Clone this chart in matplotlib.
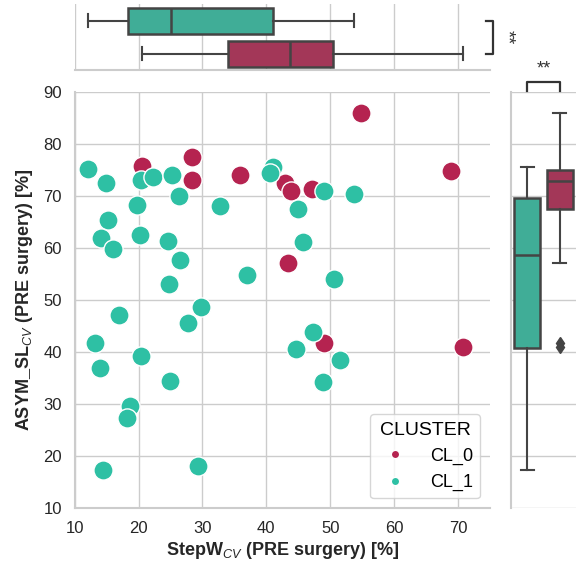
import matplotlib
matplotlib.use("Agg")
import matplotlib.pyplot as plt
import matplotlib.transforms as mtransforms
from matplotlib.lines import Line2D
import numpy as np

# ---------------- data ----------------
cl0_x = [20.5, 28.4, 28.4, 35.9, 43.0, 43.9, 43.4, 47.1, 54.8, 68.9, 49.0, 70.8]
cl0_y = [75.8, 77.5, 73.1, 74.1, 72.6, 71.0, 57.2, 71.5, 86.0, 74.9, 41.7, 41.1]

cl1_x = [12.06, 14.98, 20.4, 22.2, 25.3, 26.3, 41.1, 40.6, 19.75, 32.8,
         15.2, 14.2, 16.0, 20.2, 24.66, 26.5, 37.0, 24.8, 29.8, 45.0,
         49.0, 53.75, 45.75, 50.6, 16.9, 27.7, 13.2, 20.4, 13.9, 24.9,
         18.6, 18.2, 14.46, 29.3, 47.3, 44.7, 51.5, 48.9]
cl1_y = [75.25, 72.5, 73.1, 73.8, 74.1, 70.06, 75.6, 74.4, 68.3, 68.1,
         65.4, 62.0, 59.8, 62.6, 61.5, 57.75, 54.9, 53.1, 48.8, 67.6,
         71.0, 70.5, 61.2, 54.1, 47.1, 45.6, 41.7, 39.3, 37.0, 34.5,
         29.7, 27.3, 17.4, 18.2, 44.0, 40.6, 38.5, 34.2]

cluster_names = ["CL_0", "CL_1"]
xlabel = r"StepW$_{CV}$ (PRE surgery) [%]"
ylabel = r"ASYM_SL$_{CV}$ (PRE surgery) [%]"
legend_title = "CLUSTER"
sig_text = "**"

# ---------------- style ----------------
plt.rcParams["font.family"] = ["Liberation Sans", "DejaVu Sans"]
plt.rcParams["mathtext.fontset"] = "custom"
plt.rcParams["mathtext.rm"] = "Liberation Sans"
plt.rcParams["mathtext.it"] = "Liberation Sans:italic"
plt.rcParams["mathtext.bf"] = "Liberation Sans:bold"

c_red = "#b52350"
c_teal = "#2ec0a4"
box_red = "#a33758"
box_teal = "#40ad97"
line_c = "#444444"
grid_c = "#cccccc"

W, H = 578, 563
fig = plt.figure(figsize=(W / 100, H / 100), dpi=100)

def fx(px):
    return px / W

def fy(py):
    return 1 - py / H

left, right_ = 74.6, 490.0
top, bottom = 92.3, 508.3
ax = fig.add_axes([fx(left), fy(bottom), fx(right_ - left), (bottom - top) / H])
ax_top = fig.add_axes([fx(left), fy(70.3), fx(right_ - left), 66.0 / H], sharex=ax)
ax_r = fig.add_axes([fx(511.0), fy(bottom), fx(64.8), (bottom - top) / H], sharey=ax)

# ---------------- main scatter ----------------
ax.scatter(cl0_x, cl0_y, s=190, c=c_red, edgecolors="white", linewidths=1.0, zorder=3)
ax.scatter(cl1_x, cl1_y, s=190, c=c_teal, edgecolors="white", linewidths=1.0, zorder=3)
ax.set_xlim(10, 75)
ax.set_ylim(10, 90)
ax.set_xticks(np.arange(10, 71, 10))
ax.set_yticks(np.arange(10, 91, 10))
ax.grid(True, color=grid_c, linewidth=1.0, zorder=0)
ax.set_axisbelow(True)
for s in ["top", "right"]:
    ax.spines[s].set_visible(False)
for s in ["left", "bottom"]:
    ax.spines[s].set_color(grid_c)
    ax.spines[s].set_linewidth(1.5)
ax.tick_params(axis="both", length=0, labelsize=12, colors="#262626")
ax.tick_params(axis="x", pad=9)
ax.tick_params(axis="y", pad=9)
ax.set_xlabel(xlabel, fontsize=13, fontweight="bold", color="#262626", labelpad=3)
ax.set_ylabel(ylabel, fontsize=13, fontweight="bold", color="#262626", labelpad=6)

handles = [Line2D([0], [0], marker="o", linestyle="", markersize=6,
                  markerfacecolor=c_red, markeredgecolor="white"),
           Line2D([0], [0], marker="o", linestyle="", markersize=6,
                  markerfacecolor=c_teal, markeredgecolor="white")]
leg = ax.legend(handles, cluster_names, title=legend_title, loc="lower right",
                fontsize=13, title_fontsize=14, frameon=True, borderaxespad=0.55,
                handletextpad=0.9, labelspacing=0.5, borderpad=0.4)
leg.get_frame().set_edgecolor(grid_c)
leg.get_frame().set_linewidth(1.0)

# ---------------- boxplots ----------------
def draw_box(a, data, colors, horizontal):
    bp = a.boxplot(data, positions=[0, 1], widths=0.8, patch_artist=True,
                   orientation="horizontal" if horizontal else "vertical",
                   medianprops=dict(color=line_c, linewidth=1.8),
                   whiskerprops=dict(color=line_c, linewidth=1.5),
                   capprops=dict(color=line_c, linewidth=1.5),
                   boxprops=dict(edgecolor=line_c, linewidth=1.8),
                   flierprops=dict(marker="d", markerfacecolor=line_c,
                                   markeredgecolor=line_c, markersize=6))
    for patch, c in zip(bp["boxes"], colors):
        patch.set_facecolor(c)
    return bp

draw_box(ax_top, [cl1_x, cl0_x], [box_teal, box_red], True)
ax_top.set_ylim(1.5, -0.5)
ax_top.grid(True, axis="x", color=grid_c, linewidth=1.0)
ax_top.set_axisbelow(True)
for s in ["top", "right", "left"]:
    ax_top.spines[s].set_visible(False)
ax_top.spines["bottom"].set_color(grid_c)
ax_top.spines["bottom"].set_linewidth(1.5)
ax_top.tick_params(axis="both", length=0, labelbottom=False, labelleft=False)
ax_top.set_yticks([])

draw_box(ax_r, [cl1_y, cl0_y], [box_teal, box_red], False)
ax_r.set_xlim(-0.5, 1.5)
ax_r.grid(True, axis="y", color=grid_c, linewidth=1.0)
ax_r.set_axisbelow(True)
for s in ["top", "right", "bottom"]:
    ax_r.spines[s].set_visible(False)
ax_r.spines["left"].set_color(grid_c)
ax_r.spines["left"].set_linewidth(1.5)
ax_r.tick_params(axis="both", length=0, labelbottom=False, labelleft=False)
ax_r.set_xticks([])

# ---------------- significance brackets ----------------
tr_r = mtransforms.blended_transform_factory(ax_r.transData, fig.transFigure)
fig.add_artist(Line2D([0, 0, 1, 1], [fy(90.7), fy(81.7), fy(81.7), fy(90.7)],
                      transform=tr_r, color="#333333", linewidth=1.6))
fig.text(0.5, fy(69), sig_text, transform=tr_r, ha="center", va="center",
         fontsize=13, color="#333333")

tr_t = mtransforms.blended_transform_factory(fig.transFigure, ax_top.transData)
fig.add_artist(Line2D([fx(485.7), fx(493.3), fx(493.3), fx(485.7)], [0, 0, 1, 1],
                      transform=tr_t, color="#333333", linewidth=1.6))
fig.text(fx(507), 0.5, sig_text, transform=tr_t, ha="center", va="center",
         fontsize=13, color="#333333", rotation=-90)

fig.savefig("out.png", dpi=100)
